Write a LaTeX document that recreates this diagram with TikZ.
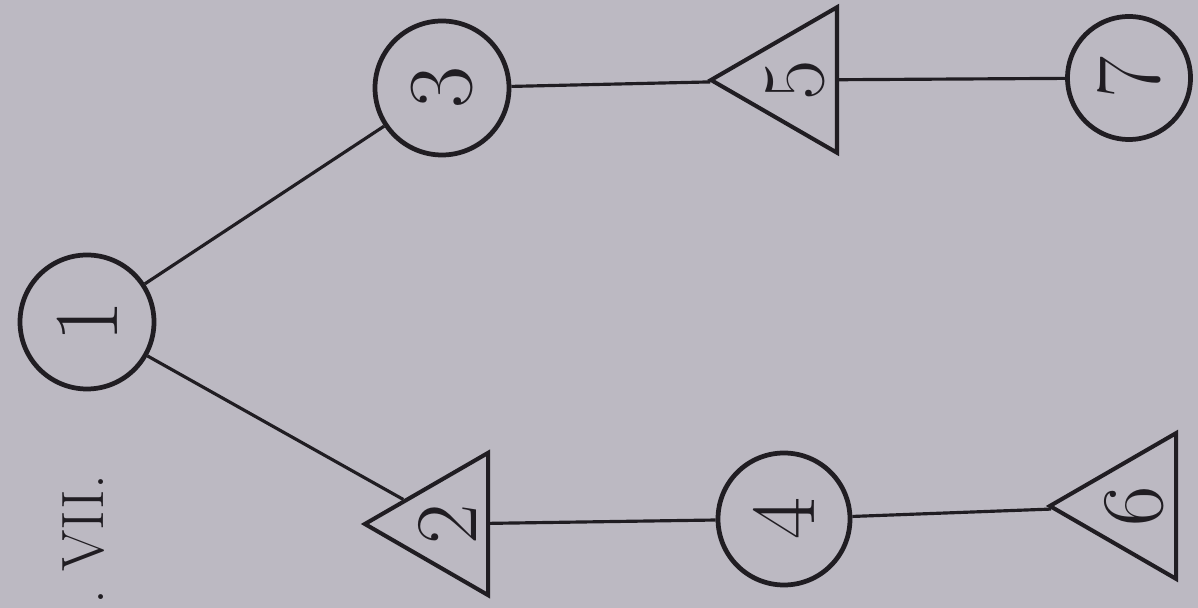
\documentclass[tikz,border=0pt]{standalone}
\usetikzlibrary{shapes.geometric}
\definecolor{fond}{RGB}{188,185,194}
\definecolor{encre}{RGB}{32,29,34}
\begin{document}
\begin{tikzpicture}[
        noeudrond/.style={draw=encre, circle, line width=2.7pt, minimum size=2.68cm, inner sep=0pt, rotate=90, font=\fontsize{52}{52}\selectfont, text=encre},
        noeudtri/.style={draw=encre, regular polygon, regular polygon sides=3, line width=2.3pt, minimum size=3.05cm, inner sep=0pt, rotate=90, font=\fontsize{50}{50}\selectfont, text=encre},
        lien/.style={draw=encre, line width=1.8pt}
    ]
        % Fond
        \fill[fond] (0,0) rectangle (23.96,12.16);
        \useasboundingbox (0,0) rectangle (23.96,12.16);
        % Titre
        \node[rotate=90, anchor=base west, inner sep=0pt, text=encre, font=\fontsize{34}{34}\selectfont] (titre) at (2.06,0.06) {.\ VII.};
        % Noeuds ronds
        \node[noeudrond] (n1) at (1.74,5.72) {1};
        \node[noeudrond] (n3) at (8.84,10.40) {3};
        \node[noeudrond, minimum size=2.64cm] (n4) at (15.68,1.78) {4};
        \node[noeudrond, minimum size=2.46cm] (n7) at (22.58,10.60) {7};
        % Noeuds triangulaires
        \node[noeudtri] (n2) at (8.94,1.68) {2};
        \node[noeudtri] (n5) at (15.90,10.56) {5};
        \node[noeudtri, minimum size=2.95cm] (n6) at (22.68,2.04) {6};
        % Liens
        \draw[lien] (n1) -- (n3);
        \draw[lien] (n1) -- (n2);
        \draw[lien] (n3) -- (n5);
        \draw[lien] (n5) -- (n7);
        \draw[lien] (n2) -- (n4);
        \draw[lien] (n4) -- (n6);
    \end{tikzpicture}
\end{document}
